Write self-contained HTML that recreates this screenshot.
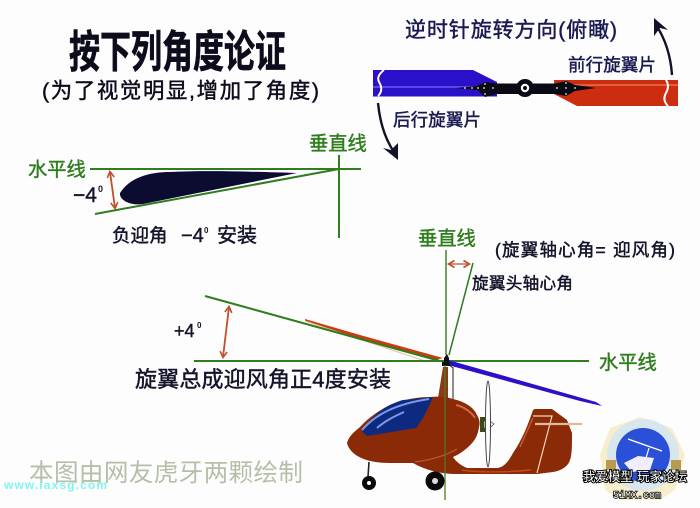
<!DOCTYPE html>
<html><head><meta charset="utf-8"><style>
html,body{margin:0;padding:0;background:#fdfdfe}
svg{display:block}
text{font-family:"Liberation Sans","Noto Sans CJK SC",sans-serif}
.t{stroke-width:.45;stroke:currentColor}
</style></head><body>
<svg width="700" height="508" viewBox="0 0 700 508" xmlns="http://www.w3.org/2000/svg">
<defs>
<marker id="o" markerWidth="9" markerHeight="9" refX="6.5" refY="4.5" orient="auto-start-reverse" markerUnits="userSpaceOnUse"><path d="M1 1L7 4.5L1 8" fill="none" stroke="#c0502a" stroke-width="1.6"/></marker>
</defs>
<rect width="700" height="508" fill="#fdfdfe"/>

<!-- title -->
<g fill="#0c0c1c" color="#0c0c1c">
<text transform="translate(69,67) scale(1,1.42)" font-size="31" font-weight="700" class="t">按下列角度论证</text>
<text x="42" y="98" font-size="21.4" class="t" textLength="277" lengthAdjust="spacing">(为了视觉明显,增加了角度)</text>
</g>

<!-- rotor top view -->
<path d="M373 70H473L497 82V96.5H373Z" fill="#2a10c8"/>
<rect x="373" y="86" width="124" height="2" fill="#5a48e0"/>
<path d="M554 80H678V106H577L554 94Z" fill="#cc2c10"/>
<rect x="554" y="84" width="124" height="2" fill="#e4603c"/>
<path d="M384 70q-8 6-5 12q5 8-1 14" fill="none" stroke="#fff" stroke-width="2"/>
<path d="M666 80q4 6 0 13q-4 7 2 13" fill="none" stroke="#fff" stroke-width="2"/>
<path d="M456 88L477 86L485 82L497 83.5H555L566 81L575 85L596 88L575 91L566 96L555 94H497L485 97L477 90Z" fill="#0a0a14"/>
<circle cx="525" cy="88" r="9" fill="#0a0a14"/>
<circle cx="525" cy="88" r="4.2" fill="#fff"/>
<circle cx="525" cy="88" r="2" fill="#0a0a14"/>
<g fill="#eee"><circle cx="465" cy="88" r=".9"/><circle cx="472" cy="88" r=".9"/><circle cx="478" cy="88" r=".9"/><circle cx="484" cy="88" r=".9"/><circle cx="485" cy="84" r=".9"/><circle cx="485" cy="94" r=".9"/><circle cx="493" cy="88" r=".9"/><circle cx="557" cy="88" r=".9"/><circle cx="566" cy="88" r=".9"/><circle cx="566" cy="83" r=".9"/><circle cx="566" cy="94" r=".9"/><circle cx="575" cy="88" r=".9"/></g>
<path d="M672 75Q670 46 656 25" fill="none" stroke="#12122a" stroke-width="2.4"/>
<path d="M654 18L668 30L660 28L654 36Z" fill="#12122a"/>
<path d="M378 103Q381 133 394 152" fill="none" stroke="#12122a" stroke-width="2.4"/>
<path d="M398 160L383 148L391 150L398 143Z" fill="#12122a"/>
<g fill="#1a1a50" color="#1a1a50">
<text x="405" y="37" font-size="21" class="t" textLength="212" lengthAdjust="spacing">逆时针旋转方向(俯瞰)</text>
<text x="568" y="71" font-size="17.5" class="t" textLength="88" lengthAdjust="spacing">前行旋翼片</text>
<text x="393" y="126" font-size="17.5" class="t" textLength="88" lengthAdjust="spacing">后行旋翼片</text>
</g>

<!-- airfoil diagram -->
<path d="M120 193C128 180 145 172 170 172C210 170 260 172 297 173L143 204C128 206 119 199 120 193Z" fill="#0c0c30"/>
<g stroke="#2f7d1e" stroke-width="2" fill="none">
<path d="M90 169H361"/><path d="M95 214L339 169"/><path d="M339 155V238"/>
</g>
<path d="M110 172L115 208" stroke="#c0502a" stroke-width="1.8" marker-start="url(#o)" marker-end="url(#o)"/>
<g fill="#2f7d1e" color="#2f7d1e" font-size="19.3">
<text x="28" y="176" class="t">水平线</text>
<text x="309" y="150" class="t">垂直线</text>
</g>
<g fill="#14142a" color="#14142a">
<text x="73" y="202" font-size="21" class="t">−4</text>
<text x="98" y="192" font-size="9" font-weight="700">0</text>
<text x="112" y="242" font-size="18.5" class="t">负迎角</text>
<text x="181" y="242" font-size="20" class="t">−4</text>
<text x="204" y="233" font-size="8" font-weight="700">0</text>
<text x="217" y="242" font-size="20" class="t">安装</text>
</g>

<!-- side diagram lines -->
<path d="M305 321L360 340L435 360L443 358L360 335L305 319Z" fill="#cc3a14"/>
<path d="M305 321L425 361" stroke="#e8c090" stroke-width="1"/>
<path d="M205 296L440 361" stroke="#2f7d1e" stroke-width="2"/>
<path d="M194 361H589" stroke="#2f7d1e" stroke-width="2"/>
<path d="M448 360L596 402L602 406L580 401L448 365Z" fill="#2a10c8"/>
<path d="M446 355V250" stroke="#4f8a3c" stroke-width="1.6" fill="none"/>
<path d="M449 355L473 263" stroke="#2f7d1e" stroke-width="1.5"/>
<path d="M449 264H469" stroke="#c0502a" stroke-width="1.3" marker-start="url(#o)" marker-end="url(#o)"/>
<path d="M229 307L223 357" stroke="#c0502a" stroke-width="1.8" marker-start="url(#o)" marker-end="url(#o)"/>
<g fill="#2f7d1e" color="#2f7d1e" font-size="19.3">
<text x="418" y="245" class="t">垂直线</text>
<text x="599" y="369" class="t">水平线</text>
</g>
<g fill="#14142a" color="#14142a">
<text x="495" y="256" font-size="17.5" class="t" textLength="180" lengthAdjust="spacing">(旋翼轴心角= 迎风角)</text>
<text x="472" y="289" font-size="16.6" class="t" textLength="101" lengthAdjust="spacing">旋翼头轴心角</text>
<text x="174" y="337" font-size="18" class="t">+4</text>
<text x="197" y="328" font-size="8" font-weight="700">0</text>
<text x="135" y="387" font-size="22" class="t" textLength="256" lengthAdjust="spacing">旋翼总成迎风角正4度安装</text>
</g>

<!-- gyrocopter -->
<path d="M438 398L443 367H448L448 398Z" fill="#8a3a14"/>
<path d="M448 364L453 368V405" fill="none" stroke="#333" stroke-width="1.1"/>
<rect x="442" y="362" width="8" height="4" fill="#111"/>
<path d="M444 358L447 354L449 358V362H444Z" fill="#111"/>
<path d="M347 443C349 436 354 432 360 427C368 418 378 411 390 405C405 399 418 397 430 397C440 396 447 397 453 399C466 402 474 408 477 415C480 420 480 424 479 427C478 434 476 438 473 442C467 449 460 454 453 457C456 462 462 466 467 468H497C505 467 509 460 513 453C522 440 528 425 533 410L535 409H552L567 420L572 433C572 445 572 455 570 460C568 467 560 471 553 472L537 474H457C440 474 425 470 413 463H390C365 463 350 455 347 443Z" fill="#8a2a06"/>
<path d="M362 431C372 416 385 405 403 400L433 397C428 408 424 418 416 428L367 436Z" fill="#0e2a80"/>
<path d="M362 430C375 415 395 404 429 399" stroke="#7a9ae8" stroke-width="2" fill="none"/>
<path d="M377 428C385 421 393 417 404 412" stroke="#7a9ae8" stroke-width="2" fill="none"/>
<path d="M415 462C430 460 445 456 457 449" stroke="#c05a30" stroke-width="1.2" fill="none"/>
<path d="M456 405C465 407 472 413 475 418" stroke="#d06a40" stroke-width="2" fill="none"/>
<path d="M462 470C480 473 510 472 531 470" stroke="#c04a20" stroke-width="1.4" fill="none"/>
<path d="M520 447L533 418" stroke="#c05a30" stroke-width="1.5" fill="none"/>
<path d="M533 416H552L537 473" stroke="#f0d8c0" stroke-width="1.2" fill="none"/>
<path d="M535 424H582" stroke="#e0b8a0" stroke-width="2.2"/>
<rect x="480" y="417" width="5" height="15" fill="#3a4a18"/>
<path d="M484 421H490L494 424L490 428H484Z" fill="#eee" stroke="#333" stroke-width=".6"/>
<ellipse cx="488" cy="424" rx="2.5" ry="43" fill="#fff" stroke="#444" stroke-width="1"/>
<path d="M445 365V500" stroke="#4f7a22" stroke-width="1.3"/>
<path d="M369 462L368 477" stroke="#222" stroke-width="1.6"/>
<circle cx="369" cy="483" r="7" fill="#0a0a0a"/><circle cx="369" cy="483" r="2" fill="#fff"/>
<circle cx="435" cy="481" r="9.5" fill="#0a0a0a"/><circle cx="435" cy="481" r="3" fill="#ddd"/>

<!-- logo -->
<path d="M640 417L672 428L685 455L675 490L660 500L620 500L605 490L600 455L610 428Z" fill="#f8eecc"/>
<circle cx="643" cy="455" r="36" fill="#d8e6ee"/>
<circle cx="643" cy="455" r="27" fill="#2a50d8"/>
<path d="M624 463L638 456L654 458L650 470L632 472Z" fill="#eef"/>
<path d="M628 439L662 451" stroke="#fff" stroke-width="1.4"/>
<path d="M649 448L646 458" stroke="#fff" stroke-width="1.2"/>
<rect x="606" y="460" width="10" height="10" fill="#b89a50"/>
<rect x="671" y="460" width="10" height="10" fill="#b89a50"/>
<g font-size="12.5" fill="#fff" stroke="#000" stroke-width="2" paint-order="stroke">
<text x="583" y="481">我爱模型</text>
<text x="637" y="481">玩家论坛</text>
</g>
<text x="613" y="498" font-size="10" fill="#fff" stroke="#000" stroke-width="1.5" paint-order="stroke" style="font-family:'Liberation Mono',monospace" textLength="48">5iMX.com</text>

<!-- watermarks -->
<text x="29" y="481" font-size="24.6" fill="#b4bfa8" textLength="274" lengthAdjust="spacing">本图由网友虎牙两颗绘制</text>
<text x="4" y="489" font-size="12" font-weight="700" fill="#7ff5ee" textLength="103" lengthAdjust="spacing">www.iaxsg.com</text>
</svg>
</body></html>
